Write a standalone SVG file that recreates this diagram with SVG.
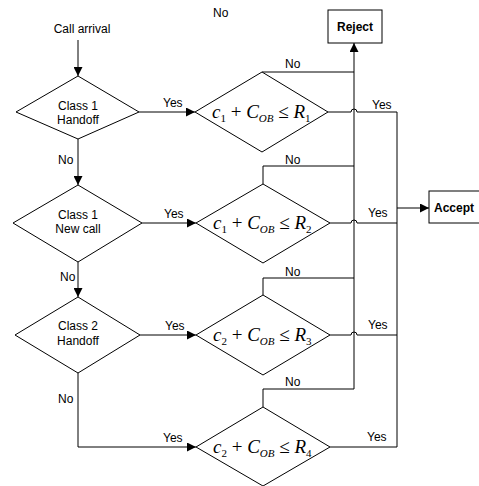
<svg xmlns="http://www.w3.org/2000/svg" width="479" height="486" viewBox="0 0 479 486">
<defs>
<marker id="ah" viewBox="0 0 10 10" refX="10" refY="5" markerWidth="9" markerHeight="9" markerUnits="userSpaceOnUse" orient="auto"><path d="M0,0 L10,5 L0,10 z" fill="#000"/></marker>
<style>
.ln{fill:none;stroke:#000;stroke-width:1}
.sh{fill:#fff;stroke:#000;stroke-width:1}
.t{font-family:"Liberation Sans",Arial,sans-serif;font-size:12px;fill:#000}
.c{text-anchor:middle}
.b{font-weight:bold}
.m{font-family:"Liberation Serif","Times New Roman",serif;font-size:19px;fill:#000}
.i{font-style:italic}
.s{font-size:11px}
</style>
</defs>
<rect width="479" height="486" fill="#fff"/>
<g id="connectors">
<path class="ln" d="M78 40 V76" marker-end="url(#ah)"/>
<path class="ln" d="M78 139 V185" marker-end="url(#ah)"/>
<path class="ln" d="M78 262 V297" marker-end="url(#ah)"/>
<path class="ln" d="M78 373 V447 H196" marker-end="url(#ah)"/>
<path class="ln" d="M139 112 H195" marker-end="url(#ah)"/>
<path class="ln" d="M142 223 H196" marker-end="url(#ah)"/>
<path class="ln" d="M140 335 H196" marker-end="url(#ah)"/>
<path class="ln" d="M354 389 V43" marker-end="url(#ah)"/>
<path class="ln" d="M262 72 H354"/>
<path class="ln" d="M263 184 V166 H354"/>
<path class="ln" d="M263 295 V278 H354"/>
<path class="ln" d="M263 407 V389 H354"/>
<path class="ln" d="M328 112 H351 A3 3 0 0 1 357 112 H397"/>
<path class="ln" d="M330 223 H351 A3 3 0 0 1 357 223 H397"/>
<path class="ln" d="M330 335 H351 A3 3 0 0 1 357 335 H397"/>
<path class="ln" d="M330 447 H397 V112"/>
<path class="ln" d="M397 208 H429" marker-end="url(#ah)"/>
<text class="t" x="163" y="107">Yes</text>
<text class="t" x="164" y="218">Yes</text>
<text class="t" x="165" y="330">Yes</text>
<text class="t" x="163" y="442">Yes</text>
<text class="t" x="372" y="109">Yes</text>
<text class="t" x="368" y="217">Yes</text>
<text class="t" x="368" y="329">Yes</text>
<text class="t" x="367" y="441">Yes</text>
<text class="t" x="285" y="68">No</text>
<text class="t" x="285" y="164">No</text>
<text class="t" x="285" y="276">No</text>
<text class="t" x="285" y="386">No</text>
<text class="t" x="58" y="164">No</text>
<text class="t" x="60" y="281">No</text>
<text class="t" x="58" y="403">No</text>
<text class="t" x="213" y="17">No</text>
</g>
<g id="start"><text class="t c" x="82" y="33">Call arrival</text></g>
<g id="d1"><path class="sh" d="M78 76 L139 112 L78 139 L16 112 Z"/><text class="t c" x="78" y="110">Class 1</text><text class="t c" x="78" y="124">Handoff</text></g>
<g id="d2"><path class="sh" d="M78 185 L142 223 L78 262 L13 223 Z"/><text class="t c" x="78" y="219">Class 1</text><text class="t c" x="78" y="233">New call</text></g>
<g id="d3"><path class="sh" d="M78 297 L140 335 L78 373 L15 335 Z"/><text class="t c" x="78" y="330">Class 2</text><text class="t c" x="78" y="345">Handoff</text></g>
<g id="r1"><path class="sh" d="M262 72 L328 112 L262 152 L195 112 Z"/>
<text class="m" x="212" y="118"><tspan class="i">c</tspan><tspan class="s" dy="4">1</tspan><tspan dy="-4"> + </tspan><tspan class="i">C</tspan><tspan class="s i" dy="4">OB</tspan><tspan dy="-4"> ≤ </tspan><tspan class="i">R</tspan><tspan class="s" dy="4">1</tspan></text></g>
<g id="r2"><path class="sh" d="M263 184 L330 223 L263 263 L196 223 Z"/>
<text class="m" x="213" y="229"><tspan class="i">c</tspan><tspan class="s" dy="4">1</tspan><tspan dy="-4"> + </tspan><tspan class="i">C</tspan><tspan class="s i" dy="4">OB</tspan><tspan dy="-4"> ≤ </tspan><tspan class="i">R</tspan><tspan class="s" dy="4">2</tspan></text></g>
<g id="r3"><path class="sh" d="M263 295 L330 335 L263 375 L196 335 Z"/>
<text class="m" x="213" y="341"><tspan class="i">c</tspan><tspan class="s" dy="4">2</tspan><tspan dy="-4"> + </tspan><tspan class="i">C</tspan><tspan class="s i" dy="4">OB</tspan><tspan dy="-4"> ≤ </tspan><tspan class="i">R</tspan><tspan class="s" dy="4">3</tspan></text></g>
<g id="r4"><path class="sh" d="M263 407 L330 447 L263 486 L196 447 Z"/>
<text class="m" x="213" y="453"><tspan class="i">c</tspan><tspan class="s" dy="4">2</tspan><tspan dy="-4"> + </tspan><tspan class="i">C</tspan><tspan class="s i" dy="4">OB</tspan><tspan dy="-4"> ≤ </tspan><tspan class="i">R</tspan><tspan class="s" dy="4">4</tspan></text></g>
<g id="reject"><rect class="sh" x="328" y="10" width="54" height="33"/><text class="t c b" x="355" y="31">Reject</text></g>
<g id="accept"><rect class="sh" x="429" y="191" width="52" height="32"/><text class="t b" x="434" y="212">Accept</text></g>
</svg>
